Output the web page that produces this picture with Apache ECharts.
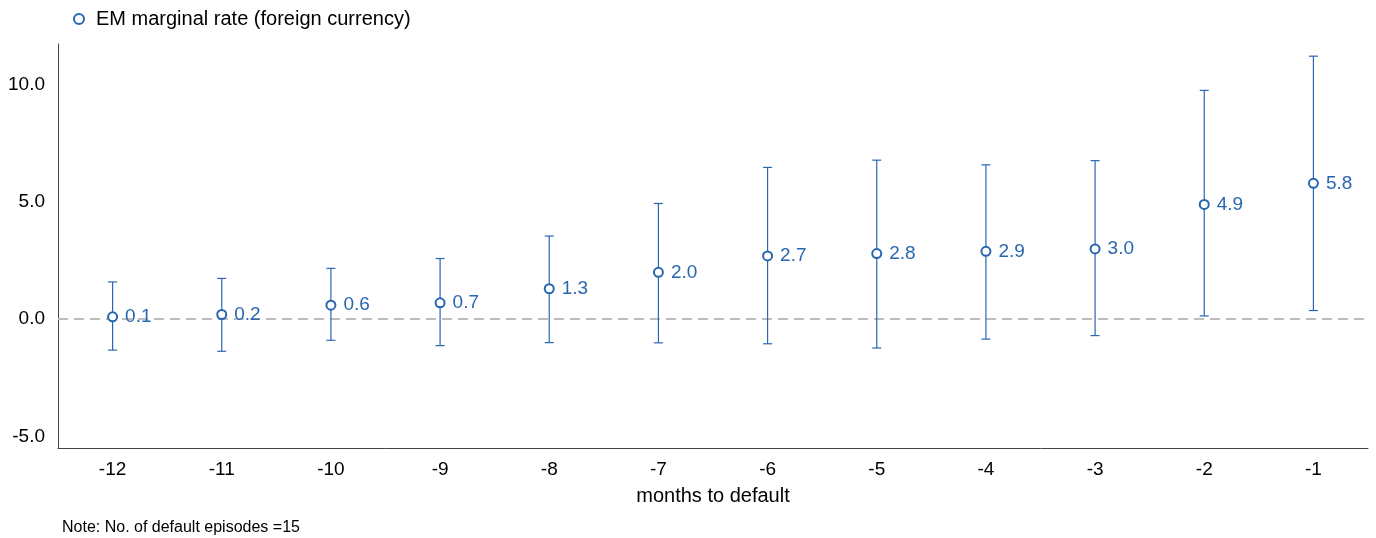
<!DOCTYPE html>
<html>
<head>
<meta charset="utf-8">
<script src="https://cdn.jsdelivr.net/npm/echarts@6/dist/echarts.min.js"></script>
<style>html,body{margin:0;padding:0;background:#fff}#c{width:1376px;height:538px}</style>
</head>
<body>
<div id="c"></div>
<script>
const categories = ['-12','-11','-10','-9','-8','-7','-6','-5','-4','-3','-2','-1'];
const pointValues = [0.1, 0.2, 0.6, 0.7, 1.3, 2.0, 2.7, 2.8, 2.9, 3.0, 4.9, 5.8];
const upperValues = [1.59, 1.74, 2.17, 2.59, 3.55, 4.94, 6.48, 6.79, 6.59, 6.77, 9.77, 11.23];
const lowerValues = [-1.32, -1.37, -0.90, -1.13, -1.00, -1.01, -1.05, -1.23, -0.85, -0.70, 0.14, 0.37];
const yTickValues = [-5, 0, 5, 10];

const blue = '#2966b1';
const font = 'Liberation Sans, Arial, sans-serif';
const chart = echarts.init(document.getElementById('c'));
const errData = categories.map((c, i) => [i, lowerValues[i], upperValues[i]]);

chart.setOption({
  animation: false,
  textStyle: { fontFamily: font },
  grid: { left: 58, right: 8, top: 44, bottom: 90 },
  legend: {
    left: 68, top: 4,
    itemWidth: 10, itemHeight: 10,
    textStyle: { fontSize: 20, color: '#000', fontFamily: font, padding: [0, 0, 0, 7] },
    data: [{ name: 'EM marginal rate (foreign currency)', icon: 'emptyCircle', itemStyle: { borderWidth: 1, opacity: 1 } }]
  },
  xAxis: {
    type: 'category',
    data: categories,
    boundaryGap: true,
    axisLine: { show: true, onZero: false, lineStyle: { color: '#444', width: 1 } },
    axisTick: { show: false },
    axisLabel: { fontSize: 19, color: '#000', margin: 12, fontFamily: font },
    name: 'months to default',
    nameLocation: 'middle',
    nameGap: 38,
    nameTextStyle: { fontSize: 20, color: '#000', fontFamily: font },
    splitLine: { show: false }
  },
  yAxis: {
    type: 'value',
    min: -5.5,
    max: 11.75,
    axisLine: { show: true, lineStyle: { color: '#444', width: 1 } },
    axisTick: { show: false },
    splitLine: { show: false },
    axisLabel: {
      customValues: yTickValues,
      fontSize: 19, color: '#000', margin: 13, fontFamily: font,
      formatter: v => v.toFixed(1)
    }
  },
  graphic: [{
    type: 'text', left: 62, top: 520,
    style: { text: 'Note: No. of default episodes =15', fontSize: 16, fill: '#000', fontFamily: font }
  }],
  series: [
    {
      type: 'custom',
      name: 'err',
      data: errData,
      z: 3,
      silent: true,
      renderItem: function (params, api) {
        const x = api.value(0);
        const lo = api.coord([x, api.value(1)]);
        const hi = api.coord([x, api.value(2)]);
        const hw = 4.5;
        const style = { stroke: blue, lineWidth: 1.2, fill: null };
        return {
          type: 'group',
          children: [
            { type: 'line', shape: { x1: hi[0], y1: hi[1], x2: lo[0], y2: lo[1] }, style: style },
            { type: 'line', shape: { x1: hi[0] - hw, y1: hi[1], x2: hi[0] + hw, y2: hi[1] }, style: style },
            { type: 'line', shape: { x1: lo[0] - hw, y1: lo[1], x2: lo[0] + hw, y2: lo[1] }, style: style }
          ]
        };
      }
    },
    {
      type: 'scatter',
      name: 'EM marginal rate (foreign currency)',
      data: pointValues,
      symbol: 'emptyCircle',
      symbolSize: 9,
      z: 4,
      itemStyle: { color: blue, borderColor: blue, borderWidth: 1, opacity: 1 },
      label: {
        show: true, position: 'right', distance: 7,
        color: blue, fontSize: 19, fontFamily: font,
        formatter: p => p.value.toFixed(1)
      },
      markLine: {
        silent: true,
        symbol: 'none',
        label: { show: false },
        lineStyle: { color: '#bdbdbd', type: [10, 6], width: 2, opacity: 1 },
        data: [{ yAxis: 0 }],
        z: 1
      }
    }
  ]
});
</script>
</body>
</html>
